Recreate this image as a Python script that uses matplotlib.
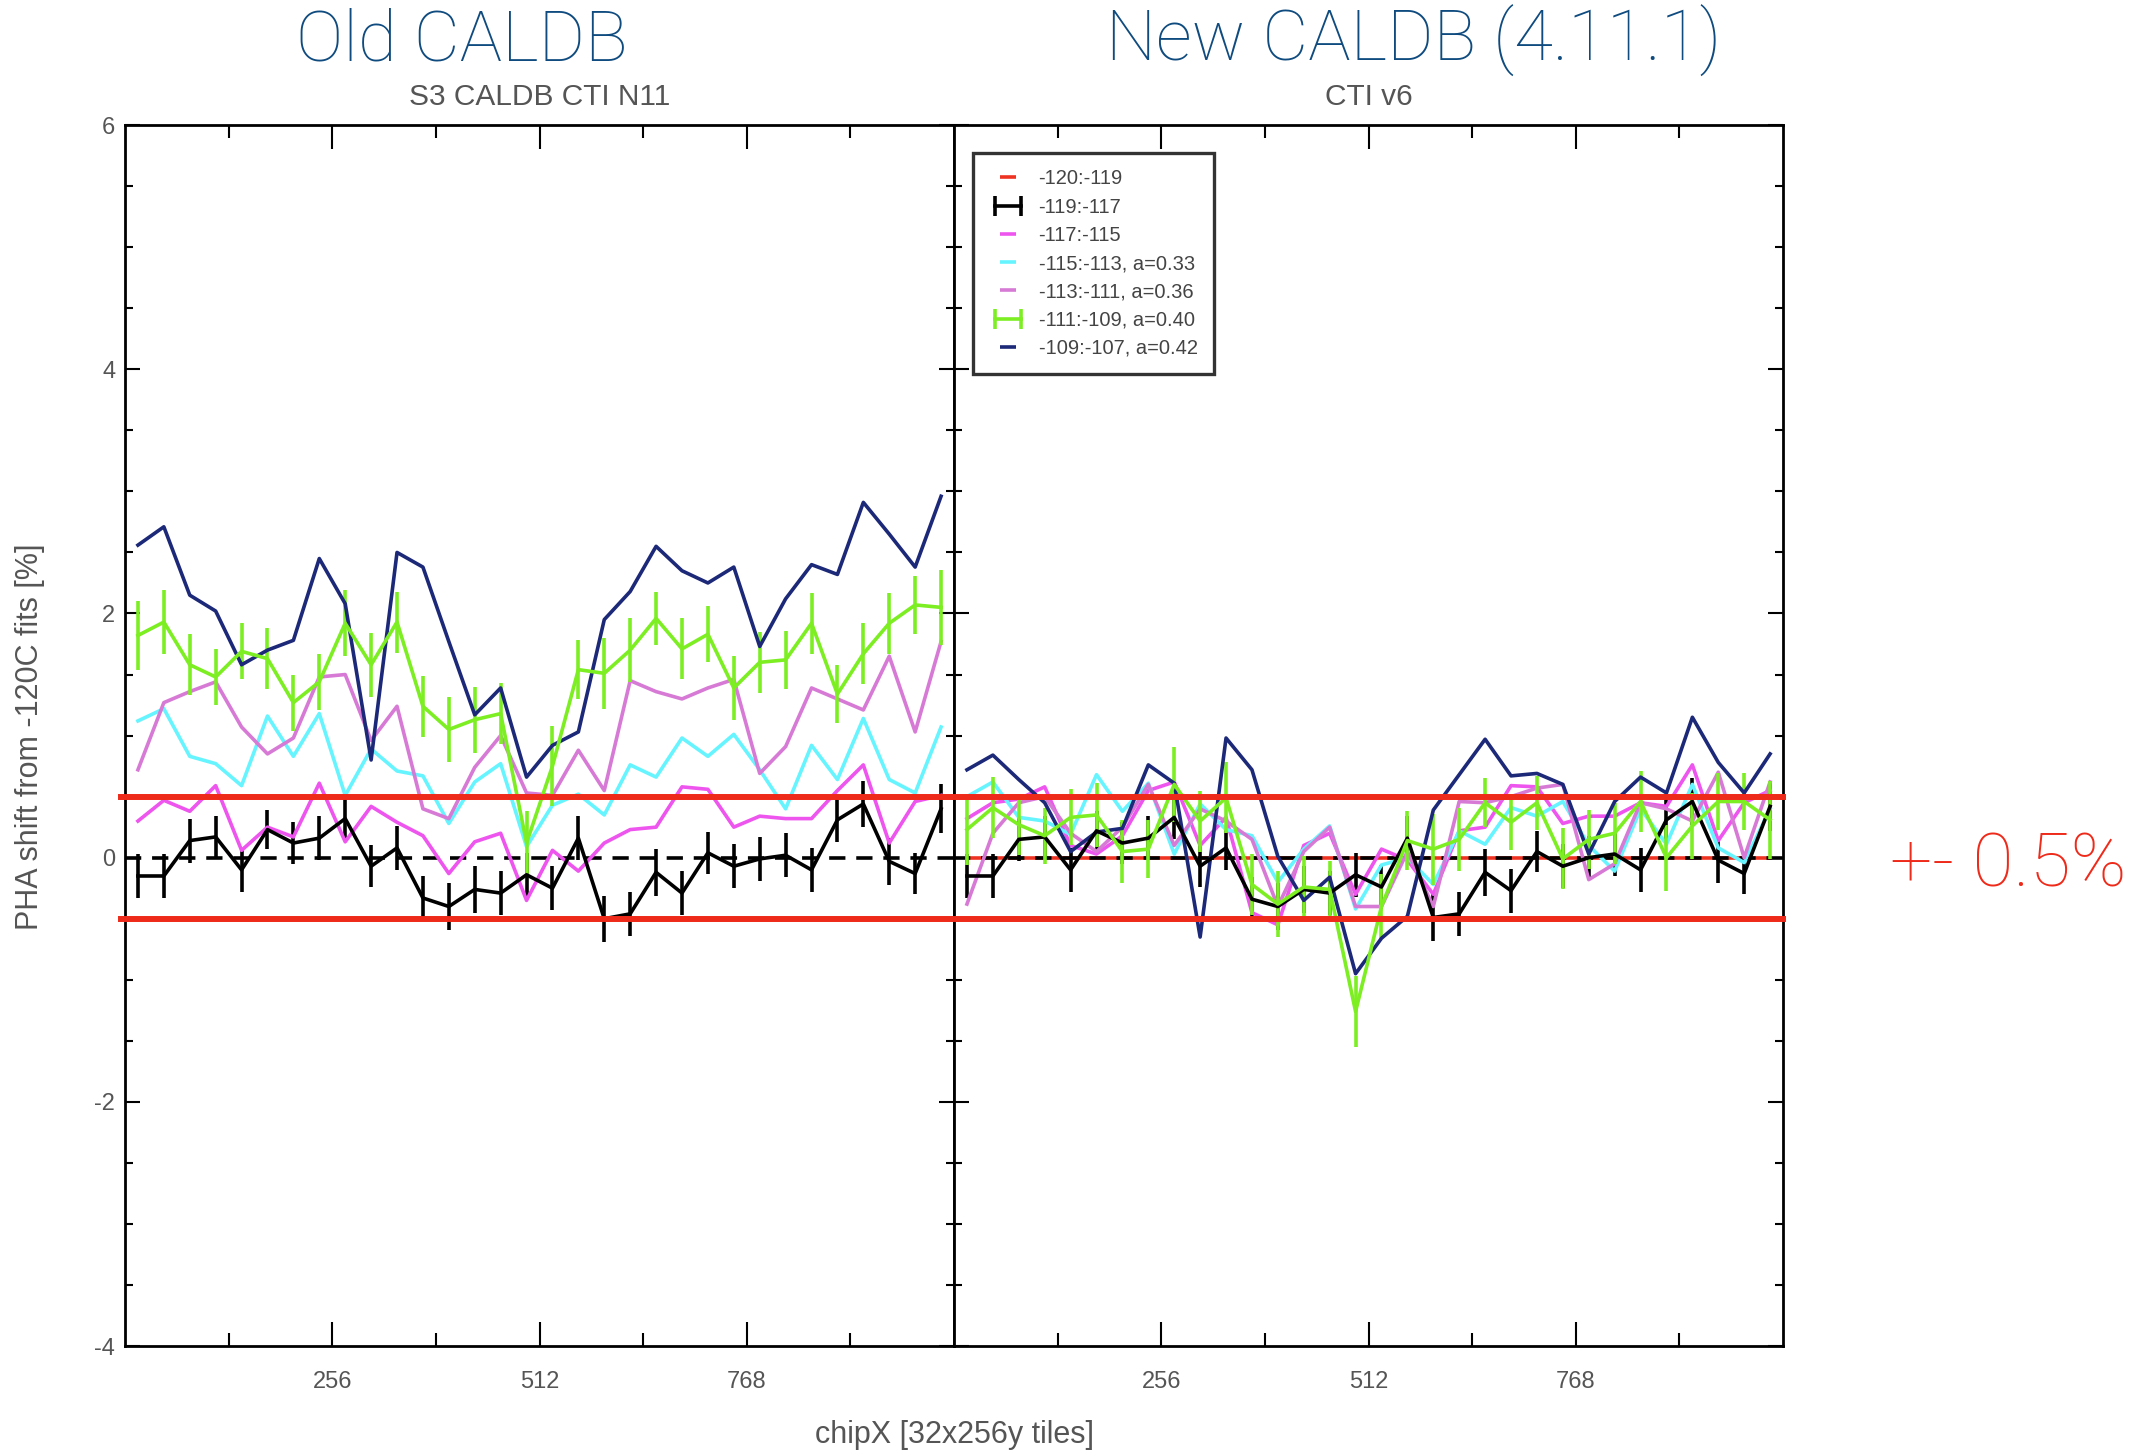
import numpy as np
import matplotlib
matplotlib.use("Agg")
import matplotlib.pyplot as plt
from matplotlib.lines import Line2D
from matplotlib.legend_handler import HandlerLine2D

plt.rcParams['font.family'] = ['Liberation Sans', 'DejaVu Sans']
plt.rcParams['axes.unicode_minus'] = False

# 32x256y tiles along chipX, one point per tile
tile_centers = np.arange(16, 1024, 32)

labels = ["-120:-119", "-119:-117", "-117:-115", "-115:-113, a=0.33",
          "-113:-111, a=0.36", "-111:-109, a=0.40", "-109:-107, a=0.42"]

# ---- S3 CALDB CTI N11 (old) ----
old_119_117 = [-0.15, -0.15, 0.14, 0.17, -0.10, 0.23, 0.12, 0.16, 0.32, -0.07, 0.08, -0.33,
               -0.40, -0.26, -0.29, -0.14, -0.25, 0.16, -0.50, -0.46, -0.12, -0.29, 0.04, -0.07,
               -0.01, 0.02, -0.10, 0.31, 0.44, -0.03, -0.13, 0.40]
old_119_117_err = [0.18, 0.18, 0.18, 0.17, 0.18, 0.16, 0.17, 0.18, 0.18, 0.17, 0.18, 0.18,
                   0.195, 0.19, 0.18, 0.18, 0.18, 0.18, 0.19, 0.18, 0.19, 0.18, 0.17, 0.18,
                   0.18, 0.18, 0.18, 0.18, 0.19, 0.19, 0.17, 0.20]
old_117_115 = [0.30, 0.47, 0.38, 0.59, 0.06, 0.25, 0.17, 0.61, 0.13, 0.42, 0.29, 0.18,
               -0.13, 0.13, 0.20, -0.35, 0.06, -0.11, 0.12, 0.23, 0.25, 0.58, 0.56, 0.25,
               0.34, 0.32, 0.32, 0.55, 0.76, 0.12, 0.46, 0.51]
old_115_113 = [1.12, 1.22, 0.83, 0.77, 0.59, 1.16, 0.83, 1.18, 0.51, 0.89, 0.71, 0.67,
               0.28, 0.62, 0.77, 0.09, 0.43, 0.52, 0.35, 0.76, 0.66, 0.98, 0.83, 1.01,
               0.72, 0.40, 0.92, 0.64, 1.14, 0.64, 0.53, 1.07]
old_113_111 = [0.72, 1.27, 1.36, 1.44, 1.07, 0.85, 0.98, 1.48, 1.50, 0.96, 1.24, 0.40,
               0.32, 0.74, 1.00, 0.53, 0.51, 0.88, 0.55, 1.45, 1.36, 1.30, 1.39, 1.46,
               0.69, 0.91, 1.39, 1.30, 1.21, 1.65, 1.03, 1.77]
old_111_109 = [1.82, 1.93, 1.58, 1.48, 1.69, 1.63, 1.27, 1.44, 1.92, 1.58, 1.93, 1.24,
               1.05, 1.13, 1.18, 0.12, 0.75, 1.54, 1.51, 1.70, 1.96, 1.71, 1.83, 1.39,
               1.60, 1.62, 1.92, 1.34, 1.67, 1.92, 2.07, 2.05]
old_111_109_err = [0.28, 0.26, 0.25, 0.23, 0.23, 0.25, 0.23, 0.23, 0.27, 0.26, 0.25, 0.25,
                   0.27, 0.27, 0.25, 0.26, 0.33, 0.24, 0.29, 0.26, 0.22, 0.25, 0.23, 0.26,
                   0.25, 0.24, 0.25, 0.24, 0.25, 0.25, 0.24, 0.31]
old_109_107 = [2.56, 2.71, 2.15, 2.02, 1.58, 1.70, 1.78, 2.45, 2.08, 0.80, 2.50, 2.38,
               1.77, 1.17, 1.39, 0.66, 0.92, 1.03, 1.95, 2.18, 2.55, 2.35, 2.25, 2.38,
               1.73, 2.12, 2.40, 2.32, 2.91, 2.65, 2.38, 2.96]

# ---- CTI v6 (new, 4.11.1) ----
new_120_119 = [0.0] * 32
new_119_117 = [-0.15, -0.15, 0.15, 0.17, -0.10, 0.22, 0.12, 0.16, 0.33, -0.07, 0.08, -0.34,
               -0.40, -0.26, -0.29, -0.14, -0.24, 0.16, -0.49, -0.46, -0.12, -0.27, 0.05, -0.07,
               0.00, 0.03, -0.10, 0.31, 0.46, -0.02, -0.13, 0.42]
new_119_117_err = [0.18, 0.18, 0.18, 0.17, 0.18, 0.16, 0.17, 0.18, 0.18, 0.17, 0.18, 0.18,
                   0.19, 0.19, 0.18, 0.18, 0.18, 0.18, 0.19, 0.18, 0.19, 0.18, 0.17, 0.18,
                   0.18, 0.18, 0.18, 0.18, 0.19, 0.19, 0.17, 0.20]
new_117_115 = [0.32, 0.45, 0.48, 0.58, 0.10, 0.03, 0.18, 0.55, 0.62, 0.10, 0.33, -0.45,
               -0.55, 0.10, 0.20, -0.30, 0.07, -0.02, -0.30, 0.22, 0.25, 0.59, 0.58, 0.28,
               0.34, 0.34, 0.45, 0.42, 0.76, 0.14, 0.45, 0.55]
new_115_113 = [0.50, 0.62, 0.33, 0.30, 0.19, 0.68, 0.38, 0.61, 0.03, 0.44, 0.23, 0.18,
               -0.20, 0.07, 0.26, -0.42, -0.06, 0.00, -0.22, 0.22, 0.11, 0.41, 0.34, 0.46,
               0.10, -0.11, 0.40, 0.11, 0.60, 0.08, -0.04, 0.40]
new_113_111 = [-0.38, 0.20, 0.45, 0.50, 0.20, 0.05, 0.25, 0.60, 0.10, 0.40, 0.30, 0.15,
               -0.40, 0.05, 0.25, -0.40, -0.40, 0.05, -0.40, 0.46, 0.45, 0.50, 0.57, 0.60,
               -0.18, -0.05, 0.45, 0.40, 0.30, 0.70, 0.00, 0.62]
new_111_109 = [0.23, 0.41, 0.27, 0.18, 0.33, 0.35, 0.05, 0.07, 0.60, 0.30, 0.49, -0.22,
               -0.38, -0.24, -0.26, -1.26, -0.40, 0.14, 0.07, 0.15, 0.45, 0.29, 0.45, -0.01,
               0.15, 0.20, 0.46, 0.00, 0.26, 0.46, 0.46, 0.31]
new_111_109_err = [0.29, 0.25, 0.25, 0.23, 0.23, 0.26, 0.26, 0.24, 0.31, 0.25, 0.29, 0.25,
                   0.27, 0.25, 0.23, 0.29, 0.27, 0.24, 0.29, 0.26, 0.20, 0.23, 0.22, 0.25,
                   0.24, 0.25, 0.25, 0.27, 0.27, 0.23, 0.23, 0.32]
new_109_107 = [0.72, 0.84, 0.64, 0.45, 0.05, 0.21, 0.24, 0.76, 0.61, -0.65, 0.98, 0.72,
               0.01, -0.35, -0.16, -0.95, -0.66, -0.48, 0.39, 0.68, 0.97, 0.67, 0.69, 0.60,
               0.03, 0.46, 0.66, 0.53, 1.15, 0.78, 0.53, 0.85]

tolerance = 0.5

c_red = '#ee3322'
c_black = 'black'
c_magenta = '#ee55ee'
c_cyan = '#66f4ff'
c_orchid = '#d77ad6'
c_green = '#7cee22'
c_navy = '#1c2878'
c_gray = '#555555'
c_title = '#0f4b7f'
c_band = '#ee2a1a'

LW = 2.6

fig = plt.figure(figsize=(21.55, 14.53), dpi=100)
ax1 = fig.add_axes([0.0580, 0.0736, 0.3847, 0.8403])
ax2 = fig.add_axes([0.4427, 0.0736, 0.3847, 0.8403])


def draw_panel(ax, black, black_err, magenta, cyan, orchid, green, green_err, navy, ref=None):
    if ref is not None:
        ax.plot(tile_centers, ref, color=c_red, lw=LW, zorder=2)
    ax.axhline(0, color='black', lw=LW, dashes=(4.5, 3), zorder=2.5)
    ax.errorbar(tile_centers, black, yerr=black_err, color=c_black, lw=LW,
                elinewidth=LW, capsize=0, zorder=3)
    ax.plot(tile_centers, magenta, color=c_magenta, lw=LW, zorder=3)
    ax.plot(tile_centers, cyan, color=c_cyan, lw=LW, zorder=3)
    ax.plot(tile_centers, orchid, color=c_orchid, lw=LW, zorder=3)
    ax.errorbar(tile_centers, green, yerr=green_err, color=c_green, lw=LW,
                elinewidth=LW, capsize=0, zorder=3)
    ax.plot(tile_centers, navy, color=c_navy, lw=LW, zorder=3)

    ax.set_xlim(0, 1024)
    ax.set_ylim(-4, 6)
    ax.set_xticks([256, 512, 768])
    ax.set_xticks([128, 384, 640, 896], minor=True)
    ax.set_yticks([-4, -2, 0, 2, 4, 6])
    ax.set_yticks(np.arange(-4, 6.01, 0.5), minor=True)
    ax.tick_params(axis='both', which='both', direction='in', top=True, right=True,
                   colors='black', labelcolor=c_gray, width=1.5)
    ax.tick_params(axis='x', which='major', length=17, pad=18, labelsize=17)
    ax.tick_params(axis='x', which='minor', length=9.5)
    ax.tick_params(axis='y', which='major', length=11, pad=7, labelsize=17)
    ax.tick_params(axis='y', which='minor', length=6)
    for s in ax.spines.values():
        s.set_linewidth(2.0)


draw_panel(ax1, old_119_117, old_119_117_err, old_117_115, old_115_113, old_113_111,
           old_111_109, old_111_109_err, old_109_107)
draw_panel(ax2, new_119_117, new_119_117_err, new_117_115, new_115_113, new_113_111,
           new_111_109, new_111_109_err, new_109_107, ref=new_120_119)
ax2.tick_params(axis='y', labelleft=False)

# +-0.5% band across both panels
for lvl in (tolerance, -tolerance):
    ax1.axhline(lvl, xmin=-0.005, xmax=1, color=c_band, lw=4.3, zorder=6, clip_on=False)
    ax2.axhline(lvl, xmin=0, xmax=1, color=c_band, lw=4.3, zorder=6, clip_on=False)

ax1.text(0.5, 1.023, "S3 CALDB CTI N11", transform=ax1.transAxes, ha='center',
         va='center', fontsize=21.5, color=c_gray)
ax2.text(0.5, 1.023, "CTI v6", transform=ax2.transAxes, ha='center',
         va='center', fontsize=21.5, color=c_gray)

# legend with short dashes for plain series and double bars for error series
plain = dict(ls='none', marker='_', markersize=12, mew=LW)
ebar = dict(lw=LW, marker='|', markersize=15, mew=LW)
handles = [
    Line2D([], [], color=c_red, **plain),
    Line2D([], [], color=c_black, **ebar),
    Line2D([], [], color=c_magenta, **plain),
    Line2D([], [], color=c_cyan, **plain),
    Line2D([], [], color=c_orchid, **plain),
    Line2D([], [], color=c_green, **ebar),
    Line2D([], [], color=c_navy, **plain),
]
leg = ax2.legend(handles, labels, loc='upper left', bbox_to_anchor=(0.023, 0.977),
                 borderaxespad=0, fontsize=14.5, numpoints=1, handlelength=1.9,
                 handletextpad=0.55, labelspacing=0.46, borderpad=0.8, fancybox=False,
                 frameon=True, handler_map={handles[1]: HandlerLine2D(numpoints=2),
                                            handles[5]: HandlerLine2D(numpoints=2)})
leg.get_frame().set_edgecolor('black')
leg.get_frame().set_linewidth(2.4)
leg.set_zorder(10)
for t in leg.get_texts():
    t.set_color('#444444')

fig.text(0.0139, 0.4928, "PHA shift from -120C fits [%]", rotation=90, ha='center',
         va='center', fontsize=22, color=c_gray)
fig.text(0.4427, 0.0124, "chipX [32x256y tiles]", ha='center', va='center',
         fontsize=22, color=c_gray)

title_font = ['Roboto', 'Lato', 'DejaVu Sans']
fig.text(0.2144, 0.972, "Old CALDB", ha='center', va='center', fontsize=51,
         color=c_title, family=title_font, fontweight='light')
fig.text(0.656, 0.972, "New CALDB (4.11.1)", ha='center', va='center', fontsize=51,
         color=c_title, family=title_font, fontweight='light')
fig.text(0.932, 0.404, "+- 0.5%", ha='center', va='center', fontsize=54,
         color=c_band, family=title_font, fontweight='light')

fig.savefig("out.png", dpi=100)
